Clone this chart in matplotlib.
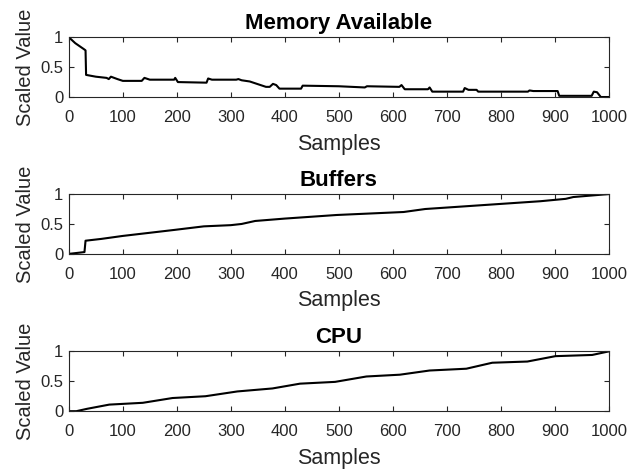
import matplotlib
matplotlib.use("Agg")
import matplotlib.pyplot as plt

plt.rcParams['font.family'] = ['Liberation Sans', 'DejaVu Sans']

# breakpoints (sample index, scaled value)
mem_x = [0, 12, 20, 28, 31, 32, 50, 70, 74, 78, 90, 100, 135, 140, 150, 195, 197,
         202, 255, 258, 265, 310, 314, 320, 335, 365, 372, 378, 384, 390, 430, 433,
         500, 548, 552, 612, 616, 622, 665, 668, 673, 730, 733, 740, 755, 758, 850,
         853, 860, 905, 908, 968, 972, 978, 985, 1000]
mem_y = [1.0, 0.90, 0.85, 0.80, 0.78, 0.37, 0.34, 0.32, 0.30, 0.34, 0.30, 0.27,
         0.27, 0.32, 0.29, 0.29, 0.32, 0.25, 0.24, 0.31, 0.29, 0.29, 0.30, 0.28,
         0.26, 0.17, 0.17, 0.22, 0.20, 0.14, 0.14, 0.19, 0.18, 0.16, 0.18, 0.17,
         0.20, 0.13, 0.13, 0.16, 0.09, 0.09, 0.15, 0.12, 0.12, 0.09, 0.09, 0.11,
         0.10, 0.10, 0.02, 0.02, 0.09, 0.08, 0.0, 0.0]

buf_x = [0, 10, 29, 31, 60, 100, 195, 250, 300, 320, 345, 400, 496, 620, 660,
         873, 920, 934, 1000]
buf_y = [0.0, 0.01, 0.03, 0.22, 0.25, 0.30, 0.40, 0.46, 0.48, 0.50, 0.55, 0.59,
         0.65, 0.70, 0.75, 0.88, 0.92, 0.95, 1.0]

cpu_x = [0, 14, 34, 75, 137, 192, 253, 312, 377, 428, 493, 551, 613, 668, 736,
         784, 849, 901, 969, 1000]
cpu_y = [0.0, 0.0, 0.04, 0.11, 0.14, 0.22, 0.25, 0.33, 0.38, 0.46, 0.49, 0.58,
         0.61, 0.68, 0.71, 0.81, 0.83, 0.92, 0.94, 1.0]

titles = ['Memory Available', 'Buffers', 'CPU']
series = [(mem_x, mem_y), (buf_x, buf_y), (cpu_x, cpu_y)]
bottoms = [0.794, 0.461, 0.127]

fig = plt.figure(figsize=(6.43, 4.71), dpi=100)

for (xs, ys), title, b in zip(series, titles, bottoms):
    ax = fig.add_axes([0.107, b, 0.840, 0.127])
    ax.plot(xs, ys, color='black', lw=1.5)
    ax.set_xlim(0, 1000)
    ax.set_ylim(0, 1)
    ax.set_xticks(range(0, 1001, 100))
    ax.set_yticks([0, 0.5, 1])
    ax.set_yticklabels(['0', '0.5', '1'])
    ax.tick_params(direction='in', top=True, right=True, length=3.5, width=0.8,
                   labelsize=12, colors='#262626')
    ax.tick_params(axis='x', pad=9.5)
    ax.tick_params(axis='y', pad=4)
    for s in ax.spines.values():
        s.set_color('#262626')
        s.set_linewidth(0.8)
    ax.set_title(title, fontsize=16, fontweight='bold', pad=6)
    ax.set_xlabel('Samples', fontsize=15.5, color='#262626', labelpad=6)
    ax.set_ylabel('Scaled Value', fontsize=14.5, color='#262626', labelpad=4)

fig.savefig('out.png', dpi=100)
